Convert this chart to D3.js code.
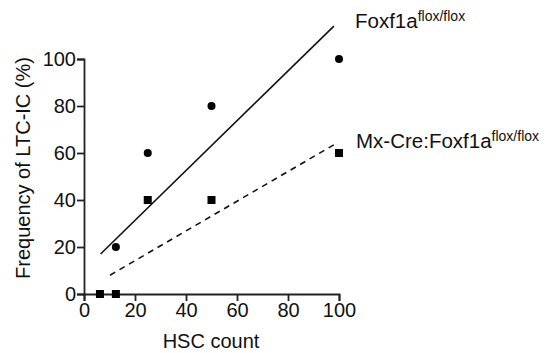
<!DOCTYPE html>
<html>
<head>
<meta charset="utf-8">
<script src="https://cdn.jsdelivr.net/npm/d3@7"></script>
<style>
  body { margin: 0; background: #fff; }
  text { font-family: "Liberation Sans", Arial, sans-serif; fill: #111; }
</style>
</head>
<body>
<script>
// data
var floxCount = [12.5, 25, 50, 100];
var floxFreq = [20, 60, 80, 100];
var creCount = [6.25, 12.5, 25, 50, 100];
var creFreq = [0, 0, 40, 40, 60];
// fitted lines (end points)
var floxFit = [[6.5, 17], [98, 114]];
var creFit = [[10.2, 8], [98, 63.5]];
var xTicks = [0, 20, 40, 60, 80, 100];
var yTicks = [0, 20, 40, 60, 80, 100];

var width = 547, height = 353;
var svg = d3.select("body").append("svg")
    .attr("width", width)
    .attr("height", height);

var x = d3.scaleLinear().domain([0, 100]).range([84, 339]);
var y = d3.scaleLinear().domain([0, 100]).range([294, 59]);

var xAxis = svg.append("g")
    .attr("transform", "translate(0,294)")
    .call(d3.axisBottom(x).tickValues(xTicks).tickSize(7).tickPadding(2));
var yAxis = svg.append("g")
    .attr("transform", "translate(84,0)")
    .call(d3.axisLeft(y).tickValues(yTicks).tickSize(7).tickPadding(1));

[xAxis, yAxis].forEach(function(a) {
  a.select(".domain").attr("stroke", "#222").attr("stroke-width", 1.8);
  a.selectAll(".tick line").attr("stroke", "#222").attr("stroke-width", 1.8);
  a.selectAll(".tick text")
    .attr("font-size", 20)
    .attr("font-family", "Liberation Sans, Arial, sans-serif")
    .attr("fill", "#111");
});

// axis titles
svg.append("text")
    .attr("x", 211).attr("y", 348)
    .attr("text-anchor", "middle")
    .attr("font-size", 20)
    .text("HSC count");

svg.append("text")
    .attr("transform", "translate(30,168) rotate(-90)")
    .attr("text-anchor", "middle")
    .attr("font-size", 20)
    .text("Frequency of LTC-IC (%)");

var line = d3.line()
    .x(function(d) { return x(d[0]); })
    .y(function(d) { return y(d[1]); });

svg.append("path")
    .attr("d", line(floxFit))
    .attr("fill", "none")
    .attr("stroke", "#111")
    .attr("stroke-width", 1.6);

svg.append("path")
    .attr("d", line(creFit))
    .attr("fill", "none")
    .attr("stroke", "#111")
    .attr("stroke-width", 1.6)
    .attr("stroke-dasharray", "6,5");

svg.append("g").selectAll("circle")
    .data(floxCount)
    .enter().append("circle")
    .attr("cx", function(d) { return x(d); })
    .attr("cy", function(d, i) { return y(floxFreq[i]); })
    .attr("r", 4)
    .attr("fill", "#000");

var sq = 8;
svg.append("g").selectAll("rect")
    .data(creCount)
    .enter().append("rect")
    .attr("x", function(d) { return x(d) - sq / 2; })
    .attr("y", function(d, i) { return y(creFreq[i]) - sq / 2; })
    .attr("width", sq)
    .attr("height", sq)
    .attr("fill", "#000");

// series labels
var lab1 = svg.append("text").attr("x", 355).attr("y", 28).attr("font-size", 20.5);
lab1.append("tspan").text("Foxf1a");
lab1.append("tspan").attr("font-size", 14).attr("dy", -7).text("flox/flox");

var lab2 = svg.append("text").attr("x", 356).attr("y", 148).attr("font-size", 20.5);
lab2.append("tspan").text("Mx-Cre:Foxf1a");
lab2.append("tspan").attr("font-size", 14).attr("dy", -7).text("flox/flox");
</script>
</body>
</html>
